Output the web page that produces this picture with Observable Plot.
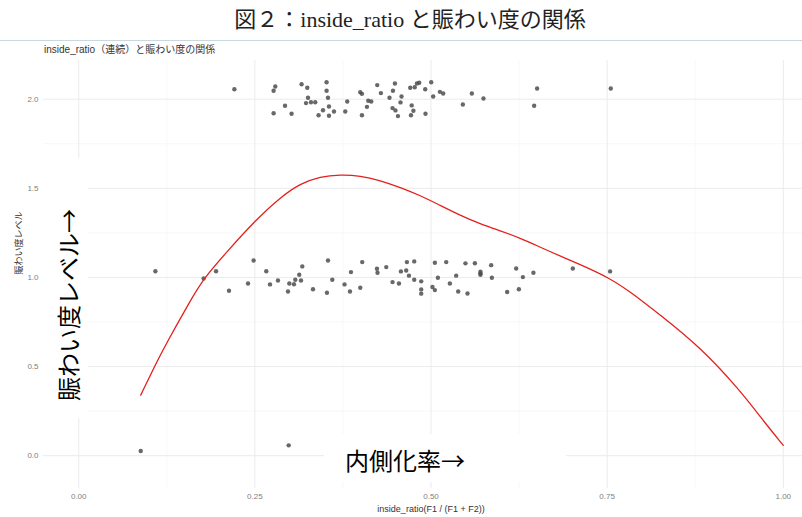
<!DOCTYPE html>
<html>
<head>
<meta charset="utf-8">
<script src="https://cdn.jsdelivr.net/npm/d3@7"></script>
<script src="https://cdn.jsdelivr.net/npm/@observablehq/plot@0.6"></script>
<style>
  body { margin: 0; background: #fff; }
  #wrap { position: relative; width: 802px; height: 517px; overflow: hidden; background: #fff; }
  #title {
    position: absolute; left: 0; top: 0; width: 820px; height: 40px; line-height: 40px;
    text-align: center; color: #222; font-size: 22px;
    font-family: "Liberation Serif", "DejaVu Serif", "Noto Sans CJK JP", serif;
    border-bottom: 1px solid #c8d8df;
  }
  #sub {
    position: absolute; left: 44px; top: 44px; line-height: 12px; font-size: 10px; color: #333;
    font-family: "Liberation Sans", "Noto Sans CJK JP", sans-serif; white-space: nowrap;
  }
  #chart { position: absolute; left: 0; top: 57px; width: 820px; }
  #chart svg { max-width: none !important; }
  .box { position: absolute; background: #fff; }
  .big {
    position: absolute; white-space: nowrap; line-height: 1; color: #000; font-size: 24px;
    font-family: "Noto Sans CJK JP", sans-serif;
  }
  #xbox { left: 324px; top: 434px; width: 242px; height: 48px; }
  #xlab { left: 345px; top: 460px; transform: translateY(-50%); }
  #ybox { left: 40px; top: 158px; width: 48px; height: 260px; }
  #ylab { left: 68px; top: 305px; transform: translate(-50%, -50%) rotate(-90deg); }
</style>
</head>
<body>
<div id="wrap">
  <div id="title">図２：inside_ratio と賑わい度の関係</div>
  <div id="sub">inside_ratio（連続）と賑わい度の関係</div>
  <div id="chart"></div>
  <div class="box" id="xbox"></div>
  <div class="big" id="xlab">内側化率→</div>
  <div class="box" id="ybox"></div>
  <div class="big" id="ylab">賑わい度レベル→</div>
</div>
<script>
// Jittered observations at level 2
const ratioHigh = [0.2209, 0.2790, 0.2766, 0.2766, 0.2928, 0.3021, 0.3163, 0.3244, 0.3254, 0.3226,
  0.3296, 0.3357, 0.3518, 0.3518, 0.3538, 0.3552, 0.3467, 0.3404, 0.3552, 0.3623,
  0.3783, 0.3811, 0.3996, 0.4020, 0.4020, 0.4091, 0.4109, 0.4152, 0.4237, 0.4289,
  0.4411, 0.4460, 0.4488, 0.4454, 0.4496, 0.4531, 0.4582, 0.4567, 0.4705, 0.4769,
  0.4726, 0.4750, 0.4716, 0.4800, 0.4833, 0.4918, 0.5003, 0.5031, 0.5126, 0.5173,
  0.4922, 0.5452, 0.5580, 0.5745, 0.6464, 0.6506, 0.7552];
const levelHigh = [2.056, 2.071, 2.047, 1.921, 1.963, 1.918, 2.084, 2.064, 2.008, 1.978,
  1.983, 1.983, 2.095, 2.047, 2.008, 1.959, 1.938, 1.910, 1.907, 1.931,
  1.931, 1.987, 2.039, 2.030, 1.910, 1.957, 1.991, 1.987, 2.079, 2.034,
  2.008, 2.047, 2.088, 1.950, 1.937, 1.905, 2.015, 1.982, 2.064, 2.067,
  1.965, 1.935, 1.910, 2.088, 2.092, 2.056, 2.095, 2.015, 2.041, 2.032,
  1.918, 1.970, 2.032, 2.004, 1.963, 2.060, 2.060];

// Jittered observations at level 1
const ratioMid = [0.1088, 0.1773, 0.1949, 0.2133, 0.2403, 0.2482, 0.2662, 0.2715, 0.2828, 0.2970,
  0.2989, 0.3055, 0.3074, 0.3130, 0.3155, 0.3173, 0.3325, 0.3538, 0.3523, 0.3599,
  0.3773, 0.3850, 0.3864, 0.3996, 0.4024, 0.4233, 0.4241, 0.4365, 0.4454, 0.4545,
  0.4573, 0.4648, 0.4658, 0.4687, 0.4762, 0.4762, 0.4861, 0.4861, 0.4861, 0.5021,
  0.5055, 0.5055, 0.5098, 0.5216, 0.5268, 0.5357, 0.5386, 0.5489, 0.5518, 0.5623,
  0.5702, 0.5702, 0.5702, 0.5854, 0.5864, 0.6081, 0.6209, 0.6247, 0.6304, 0.6454,
  0.7013, 0.7542];
const levelMid = [1.035, 0.994, 1.035, 0.925, 0.966, 1.095, 1.035, 0.961, 0.983, 0.921,
  0.966, 0.962, 0.987, 1.015, 0.983, 1.062, 0.934, 1.095, 0.914, 0.987,
  0.961, 0.921, 1.030, 0.942, 1.086, 1.049, 1.026, 1.058, 0.974, 0.966,
  1.034, 1.039, 1.086, 1.010, 1.090, 0.987, 0.978, 0.933, 0.909, 0.946,
  0.929, 1.082, 0.998, 1.086, 0.966, 1.010, 0.921, 1.079, 0.910, 1.080,
  1.032, 1.022, 1.015, 1.069, 0.998, 0.918, 1.050, 0.934, 1.002, 1.026,
  1.050, 1.034];

// Jittered observations at level 0
const ratioLow = [0.088, 0.298];
const levelLow = [0.026, 0.058];

// Smoothed trend (loess)
const smoothRatio = [0.088, 0.1088, 0.123, 0.1584, 0.1773, 0.2105, 0.2506, 0.286, 0.3145, 0.3428,
  0.3712, 0.3996, 0.428, 0.4563, 0.4847, 0.513, 0.5414, 0.5698, 0.5981, 0.6265,
  0.665, 0.7116, 0.7542, 0.7826, 0.825, 0.8818, 0.9385, 0.9669, 1.0];
const smoothLevel = [0.34, 0.51, 0.62, 0.87, 0.994, 1.145, 1.320, 1.449, 1.527, 1.566,
  1.577, 1.571, 1.544, 1.505, 1.460, 1.404, 1.348, 1.300, 1.262, 1.222,
  1.151, 1.073, 0.995, 0.920, 0.790, 0.610, 0.367, 0.220, 0.058];

// Axis breaks
const xBreaks = [0, 0.25, 0.5, 0.75, 1];
const xMinor = [0.125, 0.375, 0.625, 0.875];
const yBreaks = [0, 0.5, 1, 1.5, 2];
const yMinor = [0.25, 0.75, 1.25, 1.75];

const xTitle = "inside_ratio(F1 / (F1 + F2))";
const yTitle = "賑わい度レベル";

const points = [
  ...ratioHigh.map((r, i) => ({ratio: r, level: levelHigh[i]})),
  ...ratioMid.map((r, i) => ({ratio: r, level: levelMid[i]})),
  ...ratioLow.map((r, i) => ({ratio: r, level: levelLow[i]}))
];
const smooth = smoothRatio.map((r, i) => ({ratio: r, level: smoothLevel[i]}));

const chart = Plot.plot({
  width: 820,
  height: 460,
  marginLeft: 43,
  marginRight: 2,
  marginTop: 3,
  marginBottom: 29,
  style: {
    fontFamily: '"Liberation Sans", "Noto Sans CJK JP", sans-serif',
    fontSize: "8px",
    color: "#808080",
    background: "transparent",
    maxWidth: "none"
  },
  x: {domain: [-0.05, 1.05], ticks: xBreaks, tickFormat: d3.format(".2f"), tickSize: 0, tickPadding: 5, label: null},
  y: {domain: [-0.184, 2.217], ticks: yBreaks, tickFormat: d3.format(".1f"), tickSize: 0, tickPadding: 5, label: null},
  marks: [
    Plot.ruleX(xMinor, {stroke: "#f3f3f3", strokeWidth: 0.7}),
    Plot.ruleY(yMinor, {stroke: "#f3f3f3", strokeWidth: 0.7}),
    Plot.ruleX(xBreaks, {stroke: "#ebebeb", strokeWidth: 1}),
    Plot.ruleY(yBreaks, {stroke: "#ebebeb", strokeWidth: 1}),
    Plot.dot(points, {x: "ratio", y: "level", r: 2.2, fill: "#4d4d4d", fillOpacity: 0.85, stroke: "none"}),
    Plot.line(smooth, {x: "ratio", y: "level", stroke: "#e3211c", strokeWidth: 1.3, curve: "basis"}),
    Plot.text([xTitle], {text: d => d, frameAnchor: "bottom", dy: 23, fill: "#333", fontSize: 9}),
    Plot.text([yTitle], {text: d => d, frameAnchor: "left", dx: -24, rotate: -90, fill: "#333", fontSize: 9})
  ]
});
chart.style.maxWidth = "none";
document.getElementById("chart").appendChild(chart);
</script>
</body>
</html>
